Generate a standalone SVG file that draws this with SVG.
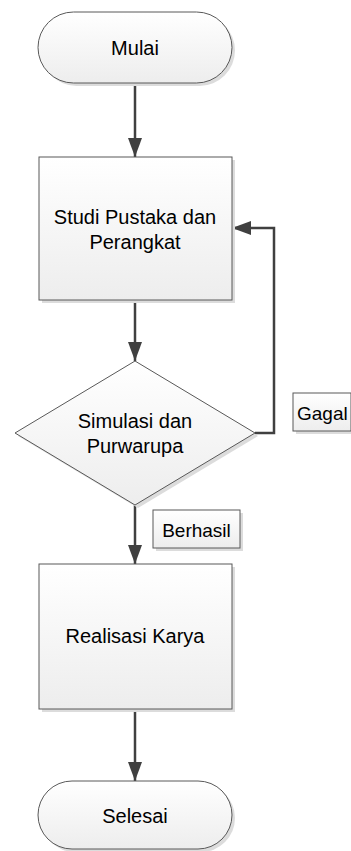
<svg xmlns="http://www.w3.org/2000/svg" width="351" height="851" viewBox="0 0 351 851">
<defs>
<linearGradient id="g" x1="0" y1="0" x2="0" y2="1">
<stop offset="0" stop-color="#ffffff"/>
<stop offset="1" stop-color="#ededed"/>
</linearGradient>
<marker id="ah" markerUnits="userSpaceOnUse" markerWidth="19" markerHeight="14" refX="19" refY="7" orient="auto">
<path d="M0,0 L19,7 L0,14 z" fill="#404040"/>
</marker>
</defs>
<style>
.shape{fill:url(#g);stroke:#595959;stroke-width:1}
.sh{fill:#dcdcdc}
.t{font-family:"Liberation Sans",Arial,sans-serif;font-size:20px;fill:#000;text-anchor:middle}
.lt{font-family:"Liberation Sans",Arial,sans-serif;font-size:19px;fill:#000}
.c{fill:none;stroke:#404040;stroke-width:2.5;marker-end:url(#ah)}
</style>
<rect width="351" height="851" fill="#ffffff"/>
<g id="connectors">
<path class="c" d="M135,83 V157"/>
<path class="c" d="M135,300 V361"/>
<path class="c" d="M255,433 H274 V228 H232"/>
<path class="c" d="M135,505 V564"/>
<path class="c" d="M135,709 V781"/>
</g>
<g id="mulai">
<rect class="sh" x="41" y="15" width="194" height="71" rx="35.5"/>
<rect class="shape" x="38" y="12" width="194" height="71" rx="35.5"/>
<text class="t" x="135" y="55">Mulai</text>
</g>
<g id="studi">
<rect class="sh" x="42" y="160" width="193" height="143"/>
<rect class="shape" x="39" y="157" width="193" height="143"/>
<text class="t" x="135" y="224">Studi Pustaka dan</text>
<text class="t" x="135" y="249">Perangkat</text>
</g>
<g id="simulasi">
<polygon class="sh" points="138,364 258,436 138,508 18,436"/>
<polygon class="shape" points="135,361 255,433 135,505 15,433"/>
<text class="t" x="135" y="428">Simulasi dan</text>
<text class="t" x="135" y="453">Purwarupa</text>
</g>
<g id="gagal">
<rect class="sh" x="296" y="396" width="58" height="38"/>
<rect class="shape" x="293" y="393" width="58" height="38"/>
<text class="lt" x="297" y="420">Gagal</text>
</g>
<g id="berhasil">
<rect class="sh" x="156" y="513" width="87" height="38"/>
<rect class="shape" x="153" y="510" width="87" height="38"/>
<text class="lt" x="196.5" y="537" text-anchor="middle">Berhasil</text>
</g>
<g id="realisasi">
<rect class="sh" x="42" y="567" width="193" height="145"/>
<rect class="shape" x="39" y="564" width="193" height="145"/>
<text class="t" x="135" y="643">Realisasi Karya</text>
</g>
<g id="selesai">
<rect class="sh" x="41" y="784" width="194" height="68" rx="34"/>
<rect class="shape" x="38" y="781" width="194" height="68" rx="34"/>
<text class="t" x="135" y="823">Selesai</text>
</g>
</svg>
